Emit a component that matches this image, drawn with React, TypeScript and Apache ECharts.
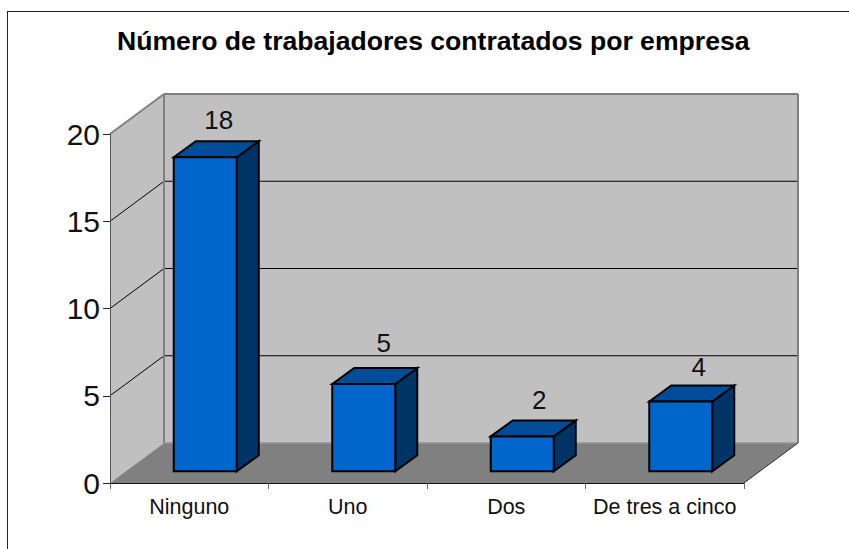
import React, { useEffect, useRef } from "react";
import * as echarts from "echarts";

const categories = ["Ninguno", "Uno", "Dos", "De tres a cinco"];
const values = [18, 5, 2, 4];
const titleText = "Número de trabajadores contratados por empresa";
const gridValues = [5, 10, 15];

const DEPTH_X = 54;
const DEPTH_Y = -40;
const BAR_SHIFT_X = 16;
const BAR_SHIFT_Y = -11.7;
const BAR_W = 63;
const BAR_DX = 22;
const BAR_DY = -16;
const LABEL_DX = [2.5, 9, 6, 7];
const LABEL_DY = [-21, -25, -20, -19];

export default function App() {
  const ref = useRef<HTMLDivElement>(null);
  useEffect(() => {
    const chart = echarts.init(ref.current!, null, { renderer: "svg" });
    const poly = (points: number[][], fill: string, stroke = "none", lineWidth = 0) => ({
      type: "polygon",
      shape: { points },
      style: { fill, stroke, lineWidth },
    });
    const line = (a: number[], b: number[], stroke: string, lineWidth: number) => ({
      type: "line",
      shape: { x1: a[0], y1: a[1], x2: b[0], y2: b[1] },
      style: { stroke, lineWidth },
    });
    chart.setOption({
      animation: false,
      backgroundColor: "#fff",
      textStyle: { fontFamily: "Liberation Sans" },
      title: {
        text: titleText,
        left: 117,
        top: 27,
        padding: 0,
        textStyle: { fontFamily: "Liberation Sans", fontWeight: "bold", fontSize: 26.6, color: "#000" },
      },
      graphic: [
        { type: "line", z: -1, shape: { x1: 7, y1: 11.5, x2: 849, y2: 11.5 }, style: { stroke: "#222", lineWidth: 1 } },
        { type: "line", z: -1, shape: { x1: 7.5, y1: 11, x2: 7.5, y2: 549 }, style: { stroke: "#222", lineWidth: 1 } },
      ],
      grid: { left: 110, top: 134, width: 634, height: 349 },
      xAxis: {
        type: "category",
        data: categories,
        axisLine: { lineStyle: { color: "#111", width: 1 } },
        axisTick: { show: true, length: 6, alignWithLabel: false, lineStyle: { color: "#666" } },
        axisLabel: { fontSize: 21.5, color: "#111", margin: 13, interval: 0, fontFamily: "Liberation Sans" },
        z: 5,
      },
      yAxis: {
        type: "value",
        min: 0,
        max: 20,
        interval: 5,
        axisLine: { show: true, lineStyle: { color: "#555", width: 1 } },
        axisTick: { show: true, length: 7, lineStyle: { color: "#222" } },
        axisLabel: { fontSize: 30, color: "#111", margin: 10, fontFamily: "Liberation Sans" },
        splitLine: { show: false },
        z: 5,
      },
      series: [
        {
          type: "custom",
          coordinateSystem: "cartesian2d",
          data: [[0, 0]],
          z: 1,
          silent: true,
          renderItem: (_p: any, api: any) => {
            const cellW = api.size([1, 0])[0];
            const o = api.coord([0, 0]);
            const x0 = o[0] - cellW / 2;
            const y0 = o[1];
            const x1 = x0 + cellW * categories.length;
            const yTop = api.coord([0, 20])[1];
            const d = (p: number[]) => [p[0] + DEPTH_X, p[1] + DEPTH_Y];
            const children: any[] = [
              poly([d([x0, yTop]), d([x1, yTop]), d([x1, y0]), d([x0, y0])], "#c0c0c0"),
              poly([[x0, yTop], d([x0, yTop]), d([x0, y0]), [x0, y0]], "#c0c0c0"),
              poly([[x0, y0], d([x0, y0]), d([x1, y0]), [x1, y0]], "#808080"),
            ];
            gridValues.forEach((v) => {
              const y = api.coord([0, v])[1];
              children.push(line([x0, y], d([x0, y]), "#000", 1));
              children.push(line(d([x0, y]), d([x1, y]), "#000", 1));
            });
            children.push(line([x0, yTop], d([x0, yTop]), "#808080", 2));
            children.push(line(d([x0, yTop]), d([x1, yTop]), "#808080", 2));
            children.push(line(d([x1, yTop]), d([x1, y0]), "#808080", 2));
            children.push(line(d([x0, yTop]), d([x0, y0]), "#808080", 2));
            children.push(line(d([x0, y0]), d([x1, y0]), "#959595", 1.5));
            children.push(line([x1, y0], d([x1, y0]), "#333", 1));
            return { type: "group", children };
          },
        },
        {
          type: "custom",
          coordinateSystem: "cartesian2d",
          data: values.map((v, i) => [i, v]),
          z: 2,
          silent: true,
          renderItem: (_p: any, api: any) => {
            const i = api.value(0);
            const v = api.value(1);
            const cx = api.coord([i, 0])[0] + BAR_SHIFT_X;
            const yb = api.coord([i, 0])[1] + BAR_SHIFT_Y;
            const yt = api.coord([i, v])[1] + BAR_SHIFT_Y;
            const xl = cx - BAR_W / 2;
            const xr = cx + BAR_W / 2;
            const s = "#000";
            return {
              type: "group",
              children: [
                poly([[xr, yt], [xr + BAR_DX, yt + BAR_DY], [xr + BAR_DX, yb + BAR_DY], [xr, yb]], "#003366", s, 2),
                poly([[xl, yt], [xl + BAR_DX, yt + BAR_DY], [xr + BAR_DX, yt + BAR_DY], [xr, yt]], "#004c99", s, 2),
                poly([[xl, yt], [xr, yt], [xr, yb], [xl, yb]], "#0066cc", s, 2),
                {
                  type: "text",
                  style: {
                    text: String(v),
                    x: cx + BAR_DX / 2 + LABEL_DX[i],
                    y: yt + BAR_DY + LABEL_DY[i],
                    align: "center",
                    verticalAlign: "middle",
                    fontSize: 26,
                    fontFamily: "Liberation Sans",
                    fill: "#111",
                  },
                },
              ],
            };
          },
        },
      ],
    });
    return () => chart.dispose();
  }, []);
  return <div ref={ref} style={{ position: "absolute", left: 0, top: 0, width: 849, height: 549 }} />;
}
